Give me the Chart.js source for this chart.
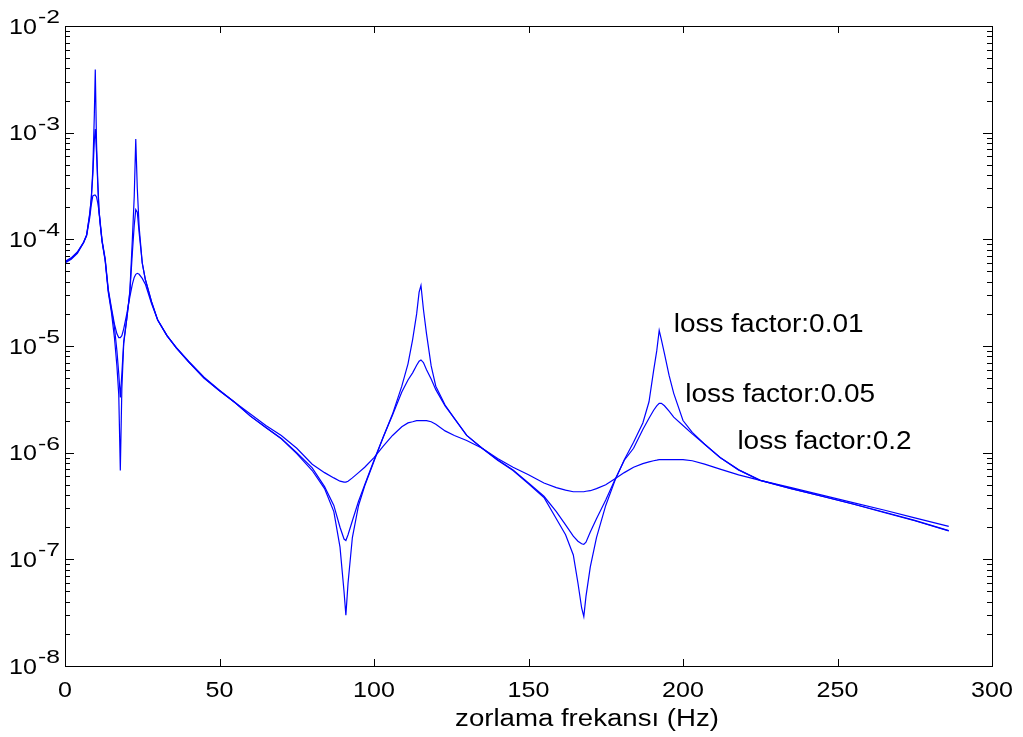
<!DOCTYPE html>
<html>
<head>
<meta charset="utf-8">
<script src="https://cdn.jsdelivr.net/npm/chart.js@4/dist/chart.umd.min.js"></script>
<style>
  html, body { margin: 0; padding: 0; background: #fff; }
  #wrap { width: 1023px; height: 737px; }
</style>
</head>
<body>
<div id="wrap"><canvas id="resp"></canvas></div>
<script>
// forcing frequency (Hz), shared by the three curves
const freq = [
  0, 2, 4, 6, 7, 8, 8.5, 9, 9.5, 9.8,
  10.2, 10.6, 11, 11.5, 12, 13, 14, 15, 16, 16.8,
  17.4, 17.9, 18.4, 19, 20, 21, 21.8, 22.4, 22.9, 23.4,
  24, 25, 26, 28, 30, 33, 36, 40, 45, 50,
  55, 60, 65, 70, 75, 80, 84, 87, 89, 90.3,
  90.9, 91.6, 93, 95, 97, 100, 103, 106, 109, 111,
  112.5, 113.8, 114.6, 115.2, 116, 117, 118.5, 120, 123, 126,
  130, 135, 140, 145, 150, 155, 159, 162, 164.5, 166,
  167.2, 167.9, 168.6, 170, 172, 175, 178, 181, 184, 187,
  189, 190.5, 191.5, 192.3, 193, 194, 195.5, 197, 200, 203,
  207, 212, 218, 225, 235, 245, 255, 265, 275, 286
];

// loss factor 0.01
const loss001 = [
  6.0e-5, 6.5e-5, 7.4e-5, 9.3e-5, 1.1e-4, 1.7e-4, 2.4e-4, 4.5e-4, 1.5e-3, 3.9e-3,
  8e-4, 3.5e-4, 1.9e-4, 1.3e-4, 9.5e-5, 6.3e-5, 3.2e-5, 2.1e-5, 1.2e-5, 6.5e-6,
  3.5e-6, 6.8e-7, 4e-6, 1.05e-5, 1.8e-5, 3.3e-5, 1.0e-4, 2.5e-4, 8.7e-4, 3.0e-4,
  1.3e-4, 6e-5, 4.2e-5, 2.6e-5, 1.75e-5, 1.25e-5, 9.6e-6, 7.1e-6, 5.0e-6, 3.8e-6,
  2.95e-6, 2.2e-6, 1.72e-6, 1.35e-6, 9.8e-7, 6.8e-7, 4.6e-7, 2.8e-7, 1.3e-7, 5e-8,
  3.0e-8, 6e-8, 1.6e-7, 3.2e-7, 4.9e-7, 8.3e-7, 1.4e-6, 2.3e-6, 4.2e-6, 6.8e-6,
  1.15e-5, 2.0e-5, 3.2e-5, 3.7e-5, 2.2e-5, 1.3e-5, 6.5e-6, 4.2e-6, 2.8e-6, 2.1e-6,
  1.45e-6, 1.1e-6, 8.5e-7, 6.8e-7, 5.1e-7, 3.8e-7, 2.4e-7, 1.7e-7, 1.1e-7, 6e-8,
  3.5e-8, 2.9e-8, 4.5e-8, 8.5e-8, 1.6e-7, 3.2e-7, 5.5e-7, 8.6e-7, 1.25e-6, 1.9e-6,
  3.0e-6, 5.9e-6, 9e-6, 1.4e-5, 1.15e-5, 8.5e-6, 5.3e-6, 3.6e-6, 2.0e-6, 1.55e-6,
  1.2e-6, 9e-7, 6.9e-7, 5.5e-7, 4.6e-7, 3.9e-7, 3.3e-7, 2.75e-7, 2.3e-7, 1.85e-7
];

// loss factor 0.05
const loss005 = [
  6.1e-5, 6.6e-5, 7.5e-5, 9.4e-5, 1.1e-4, 1.75e-4, 2.4e-4, 4.0e-4, 8.5e-4, 1.08e-3,
  6.5e-4, 3.3e-4, 1.8e-4, 1.3e-4, 9.5e-5, 6.4e-5, 3.3e-5, 2.2e-5, 1.5e-5, 9e-6,
  5.5e-6, 3.3e-6, 5.5e-6, 1.1e-5, 1.8e-5, 3.2e-5, 7.5e-5, 1.35e-4, 1.9e-4, 1.8e-4,
  1.15e-4, 6e-5, 4.2e-5, 2.6e-5, 1.75e-5, 1.25e-5, 9.6e-6, 7.1e-6, 5.0e-6, 3.8e-6,
  2.95e-6, 2.2e-6, 1.72e-6, 1.36e-6, 1.0e-6, 7.2e-7, 4.8e-7, 3.2e-7, 2.0e-7, 1.55e-7,
  1.5e-7, 1.7e-7, 2.3e-7, 3.5e-7, 5.0e-7, 8.5e-7, 1.4e-6, 2.25e-6, 3.7e-6, 4.8e-6,
  5.6e-6, 6.6e-6, 7.2e-6, 7.4e-6, 7.0e-6, 6.0e-6, 4.9e-6, 3.9e-6, 2.75e-6, 2.1e-6,
  1.45e-6, 1.1e-6, 8.6e-7, 6.9e-7, 5.2e-7, 3.9e-7, 2.8e-7, 2.1e-7, 1.65e-7, 1.48e-7,
  1.4e-7, 1.38e-7, 1.45e-7, 1.8e-7, 2.4e-7, 3.6e-7, 5.6e-7, 8.5e-7, 1.1e-6, 1.65e-6,
  2.1e-6, 2.5e-6, 2.75e-6, 2.9e-6, 2.9e-6, 2.75e-6, 2.45e-6, 2.15e-6, 1.8e-6, 1.5e-6,
  1.2e-6, 9e-7, 6.9e-7, 5.5e-7, 4.6e-7, 3.9e-7, 3.3e-7, 2.78e-7, 2.32e-7, 1.86e-7
];

// loss factor 0.2
const loss02 = [
  6.2e-5, 6.7e-5, 7.6e-5, 9.3e-5, 1.08e-4, 1.6e-4, 2.1e-4, 2.55e-4, 2.6e-4, 2.6e-4,
  2.5e-4, 2.2e-4, 1.85e-4, 1.35e-4, 9.8e-5, 6.6e-5, 3.4e-5, 2.3e-5, 1.6e-5, 1.3e-5,
  1.2e-5, 1.2e-5, 1.25e-5, 1.45e-5, 2.0e-5, 2.9e-5, 3.8e-5, 4.4e-5, 4.7e-5, 4.8e-5,
  4.7e-5, 4.3e-5, 3.8e-5, 2.5e-5, 1.75e-5, 1.25e-5, 9.7e-6, 7.2e-6, 5.1e-6, 3.85e-6,
  2.95e-6, 2.3e-6, 1.8e-6, 1.45e-6, 1.1e-6, 7.8e-7, 6.5e-7, 5.8e-7, 5.4e-7, 5.3e-7,
  5.3e-7, 5.4e-7, 5.8e-7, 6.5e-7, 7.3e-7, 9e-7, 1.15e-6, 1.45e-6, 1.75e-6, 1.9e-6,
  1.95e-6, 2.0e-6, 2.0e-6, 2.0e-6, 2.0e-6, 2.0e-6, 1.95e-6, 1.85e-6, 1.6e-6, 1.45e-6,
  1.3e-6, 1.1e-6, 8.8e-7, 7.3e-7, 6.2e-7, 5.2e-7, 4.7e-7, 4.45e-7, 4.3e-7, 4.3e-7,
  4.3e-7, 4.3e-7, 4.35e-7, 4.4e-7, 4.6e-7, 5.0e-7, 5.7e-7, 6.5e-7, 7.3e-7, 7.9e-7,
  8.2e-7, 8.4e-7, 8.5e-7, 8.6e-7, 8.6e-7, 8.6e-7, 8.6e-7, 8.6e-7, 8.6e-7, 8.4e-7,
  7.8e-7, 7.0e-7, 6.2e-7, 5.5e-7, 4.7e-7, 4.0e-7, 3.4e-7, 2.9e-7, 2.45e-7, 2.04e-7
];

const xTicks = [0, 50, 100, 150, 200, 250, 300];
const yExponents = [-8, -7, -6, -5, -4, -3, -2];
const xTitle = "zorlama frekansı (Hz)";

const noteText = ["loss factor:0.01", "loss factor:0.05", "loss factor:0.2"];
const noteX = [197, 200.7, 217.6];
const noteY = [1.57e-5, 3.46e-6, 1.26e-6];

const FONT = '"Liberation Sans", Arial, Helvetica, sans-serif';

function toPoints(ys) {
  return freq.map((f, i) => ({ x: f, y: ys[i] }));
}

// draw text a little wider than normal, like the exported figure
function wideText(ctx, txt, x, y, align, size, sx) {
  ctx.save();
  ctx.font = size + "px " + FONT;
  ctx.textAlign = align;
  ctx.translate(x, y);
  ctx.scale(sx, 1);
  ctx.fillText(txt, 0, 0);
  ctx.restore();
}

// box, inward ticks (MATLAB style), tick labels, texts
const matlabAxes = {
  id: "matlabAxes",
  afterDraw(chart) {
    const { ctx, chartArea: a } = chart;
    const xs = chart.scales.x, ys = chart.scales.y;
    ctx.save();
    ctx.strokeStyle = "#000";
    ctx.fillStyle = "#000";
    ctx.lineWidth = 1;
    ctx.strokeRect(a.left + 0.5, a.top + 0.5, a.right - a.left, a.bottom - a.top);

    ctx.beginPath();
    xTicks.forEach((v) => {
      const px = Math.round(xs.getPixelForValue(v)) + 0.5;
      ctx.moveTo(px, a.bottom); ctx.lineTo(px, a.bottom - 7);
      ctx.moveTo(px, a.top); ctx.lineTo(px, a.top + 7);
    });
    yExponents.forEach((e, k) => {
      const py = Math.round(ys.getPixelForValue(Math.pow(10, e))) + 0.5;
      ctx.moveTo(a.left, py); ctx.lineTo(a.left + 9, py);
      ctx.moveTo(a.right, py); ctx.lineTo(a.right - 9, py);
      if (k < yExponents.length - 1) {
        for (let m = 2; m <= 9; m++) {
          const pm = Math.round(ys.getPixelForValue(m * Math.pow(10, e))) + 0.5;
          ctx.moveTo(a.left, pm); ctx.lineTo(a.left + 5, pm);
          ctx.moveTo(a.right, pm); ctx.lineTo(a.right - 5, pm);
        }
      }
    });
    ctx.stroke();

    ctx.textBaseline = "alphabetic";
    xTicks.forEach((v) => {
      wideText(ctx, String(v), xs.getPixelForValue(v), a.bottom + 31, "center", 22, 1.14);
    });
    yExponents.forEach((e) => {
      const py = ys.getPixelForValue(Math.pow(10, e));
      wideText(ctx, "10", 37, py + 7.5, "right", 22, 1.14);
      wideText(ctx, String(e), 38, py - 3, "left", 19, 1.3);
    });

    wideText(ctx, xTitle, 587, a.bottom + 60, "center", 23, 1.2);

    ctx.textBaseline = "middle";
    noteText.forEach((t, i) => {
      wideText(ctx, t, xs.getPixelForValue(noteX[i]), ys.getPixelForValue(noteY[i]), "left", 25, 1.12);
    });
    ctx.restore();
  }
};

const lineStyle = {
  borderColor: "#0000ff",
  borderWidth: 1.2,
  pointRadius: 0,
  tension: 0,
  fill: false
};

new Chart(document.getElementById("resp"), {
  type: "line",
  data: {
    datasets: [
      Object.assign({ label: noteText[0], data: toPoints(loss001) }, lineStyle),
      Object.assign({ label: noteText[1], data: toPoints(loss005) }, lineStyle),
      Object.assign({ label: noteText[2], data: toPoints(loss02) }, lineStyle)
    ]
  },
  options: {
    responsive: true,
    maintainAspectRatio: false,
    animation: false,
    layout: { padding: { left: 65, top: 26, right: 31, bottom: 71 } },
    plugins: { legend: { display: false }, tooltip: { enabled: false } },
    scales: {
      x: { type: "linear", min: 0, max: 300, display: false },
      y: { type: "logarithmic", min: 1e-8, max: 1e-2, display: false }
    }
  },
  plugins: [matlabAxes]
});
</script>
</body>
</html>
